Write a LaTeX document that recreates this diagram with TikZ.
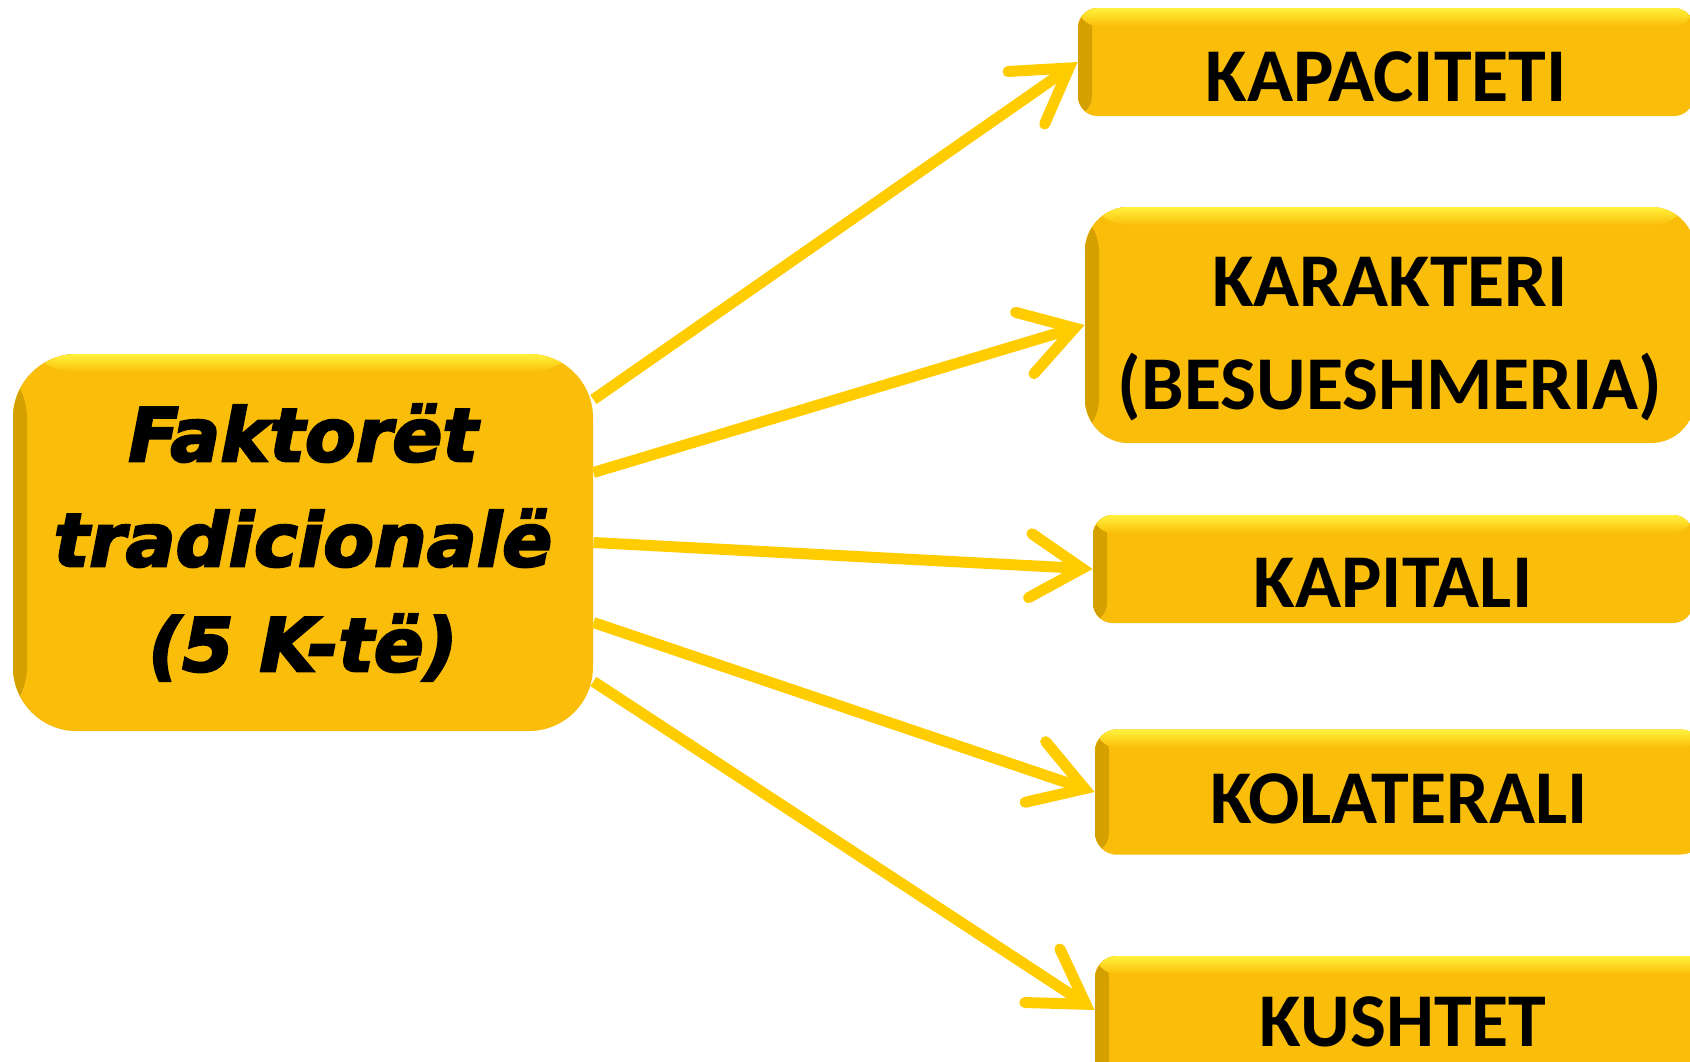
\documentclass[tikz,border=0pt]{standalone}
\usepackage{fontspec}
\usepackage{tikz}
\usetikzlibrary{arrows.meta, positioning, calc}
\newfontfamily\facfont[FakeBold=3]{DejaVu Sans}
\newfontfamily\boxfont{Carlito}
\definecolor{boxgold}{HTML}{FABE0A}
\definecolor{boxlight}{HTML}{FFF23C}
\definecolor{boxdark}{HTML}{D4A000}
\definecolor{arrowgold}{HTML}{FFCC00}
% lower a line of text inside its box, keeping the box size
\newcommand\lowered[2]{\raisebox{-#1}[\height][\depth]{#2}}

\tikzset{
  bevel/.style={path picture={
    \fill[left color=boxdark, right color=boxgold] (path picture bounding box.north west) rectangle ([xshift=7pt]path picture bounding box.south west);
    \fill[top color=boxlight, bottom color=boxgold] (path picture bounding box.north west) rectangle ([yshift=-9pt]path picture bounding box.north east);
  }},
  kbox/.style={rectangle, fill=boxgold, bevel, align=center, text=black,
    font=\boxfont\bfseries\fontsize{38}{51.5}\selectfont},
  link/.style={draw=arrowgold, line width=5.5pt,
    -{Straight Barb[length=26pt, width=32pt, line cap=round]}}
}

\begin{document}
\begin{tikzpicture}[x=0.5pt, y=-0.5pt]
  \useasboundingbox (0,0) rectangle (1690,1061);
  \clip (0,0) rectangle (1690,1061);
  \fill[white] (0,0) rectangle (1690,1061);
  % main box
  \node[kbox, minimum width=290pt, minimum height=188.5pt, rounded corners=32pt,
    font=\facfont\bfseries\itshape\fontsize{37}{52.5}\selectfont] (fak) at (303,542.5)
    {Faktorët\\tradicionalë\\(5 K-të)};
  % the five K
  \node[kbox, minimum width=308pt, minimum height=54pt, rounded corners=10pt] (kap) at (1386,62) {\lowered{7.5pt}{KAPACITETI}};
  \node[kbox, minimum width=305pt, minimum height=118pt, rounded corners=22pt] (kar) at (1390,325)
    {\lowered{7pt}{KARAKTERI}\\\lowered{7pt}{(BESUESHMERIA)}};
  \node[kbox, minimum width=300pt, minimum height=54pt, rounded corners=10pt] (kapit) at (1393,569) {\lowered{7pt}{KAPITALI}};
  \node[kbox, minimum width=304pt, minimum height=62.5pt, rounded corners=11pt] (kol) at (1399,792) {\lowered{3.5pt}{KOLATERALI}};
  \node[kbox, minimum width=308pt, minimum height=70pt, rounded corners=11pt] (kush) at (1403,1026) {\lowered{-2pt}{KUSHTET}};
  \draw[link] ($(fak.east)+(0,-143)$) -- (kap.west);
  \draw[link] ($(fak.east)+(0,-70)$) -- (kar.west);
  \draw[link] ($(fak.east)+(0,0)$) -- (kapit.west);
  \draw[link] ($(fak.east)+(0,80)$) -- (kol.west);
  \draw[link] ($(fak.east)+(0,139)$) -- ($(kush.west)+(0,-16)$);
\end{tikzpicture}
\end{document}
